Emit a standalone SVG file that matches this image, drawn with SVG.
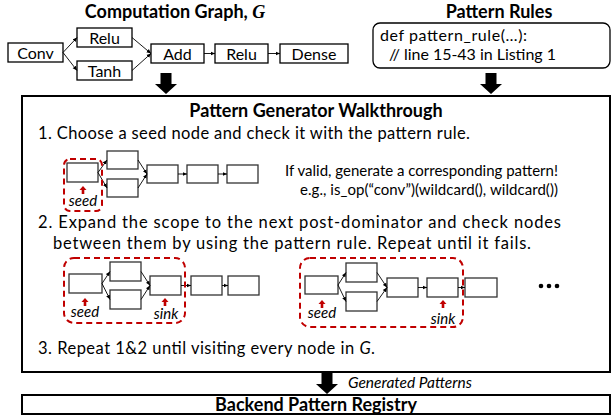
<svg xmlns="http://www.w3.org/2000/svg" width="613" height="417" viewBox="0 0 613 417">
<style>
text{font-family:Lato,"Open Sans","Liberation Sans",sans-serif;fill:#000}
.t{font-size:18px;font-weight:bold}
.n{font-size:16px}
.b{font-size:16.5px}
.s{font-size:15px}
.it{font-style:italic}
.box{fill:#fff;stroke:#000;stroke-width:1.3}
.mb{fill:#fff;stroke:#333;stroke-width:1.3}
.ln{fill:none;stroke:#000;stroke-width:0.9;marker-end:url(#ah)}
.dash{fill:none;stroke:#c00000;stroke-width:2;stroke-dasharray:6,4}
.ra{fill:#c00000}
.big{fill:#000}
</style>
<defs>
<marker id="ah" markerWidth="5" markerHeight="5" refX="4.5" refY="2.5" orient="auto" markerUnits="userSpaceOnUse">
<path d="M0,0.5 L4.5,2.5 L0,4.5 z" fill="#000"/>
</marker>
<path id="redup" d="M0,0 L3.5,4 L1.3,4 L1.3,8 L-1.3,8 L-1.3,4 L-3.5,4 z"/>
<path id="bigdown" d="M-5.5,0 L5.5,0 L5.5,11 L11,11 L0,21 L-11,11 L-5.5,11 z"/>
</defs>

<text class="t" x="175" y="18" text-anchor="middle">Computation Graph, <tspan font-family="Liberation Serif,serif" font-style="italic">G</tspan></text>
<text class="t" x="499" y="18" text-anchor="middle">Pattern Rules</text>

<g id="conv"><rect class="box" x="8" y="43" width="55" height="19"/><text class="n" x="35.5" y="58.5" text-anchor="middle">Conv</text></g>
<g id="relu1"><rect class="box" x="77" y="28" width="55" height="19"/><text class="n" x="104.5" y="43.5" text-anchor="middle">Relu</text></g>
<g id="tanh"><rect class="box" x="77" y="61" width="55" height="19"/><text class="n" x="104.5" y="76.5" text-anchor="middle">Tanh</text></g>
<g id="add"><rect class="box" x="151" y="44" width="53" height="19"/><text class="n" x="177.5" y="59.5" text-anchor="middle">Add</text></g>
<g id="relu2"><rect class="box" x="215" y="44" width="53" height="19"/><text class="n" x="241.5" y="59.5" text-anchor="middle">Relu</text></g>
<g id="dense"><rect class="box" x="280" y="44" width="68" height="19"/><text class="n" x="314" y="59.5" text-anchor="middle">Dense</text></g>

<g id="rules"><rect class="box" x="373" y="23" width="237" height="45" rx="7"/>
<text class="n" x="380" y="41" textLength="147">def pattern_rule(…):</text>
<text class="n" x="389" y="60" textLength="167">// line 15-43 in Listing 1</text></g>

<g id="connectors">
<line class="ln" x1="63" y1="52.5" x2="77" y2="37.5"/>
<line class="ln" x1="63" y1="52.5" x2="77" y2="70.5"/>
<line class="ln" x1="132" y1="37.5" x2="151" y2="53.5"/>
<line class="ln" x1="132" y1="70.5" x2="151" y2="53.5"/>
<line class="ln" x1="204" y1="53.5" x2="215" y2="53.5"/>
<line class="ln" x1="268" y1="53.5" x2="280" y2="53.5"/>
<use href="#bigdown" x="166" y="73" class="big"/>
<use href="#bigdown" x="491" y="73" class="big"/>
<use href="#bigdown" x="327" y="373" class="big"/>
</g>

<g id="walkthrough">
<rect x="22" y="96" width="588" height="276" fill="#fff" stroke="#000" stroke-width="2"/>
<text class="t" x="316" y="117" text-anchor="middle">Pattern Generator Walkthrough</text>
<text class="b" x="38" y="139" textLength="432">1. Choose a seed node and check it with the pattern rule.</text>

<g id="step1">
<rect class="mb" x="67" y="163" width="31" height="19"/>
<rect class="mb" x="107" y="151" width="31" height="18"/>
<rect class="mb" x="107" y="179" width="31" height="18"/>
<rect class="mb" x="147" y="165" width="31" height="18"/>
<rect class="mb" x="187" y="165" width="31" height="18"/>
<rect class="mb" x="227" y="165" width="31" height="18"/>
<line class="ln" x1="98" y1="172.5" x2="107" y2="160"/>
<line class="ln" x1="98" y1="172.5" x2="107" y2="188"/>
<line class="ln" x1="138" y1="160" x2="147" y2="174"/>
<line class="ln" x1="138" y1="188" x2="147" y2="174"/>
<line class="ln" x1="178" y1="174" x2="187" y2="174"/>
<line class="ln" x1="218" y1="174" x2="227" y2="174"/>
<rect class="dash" x="64" y="159" width="38" height="52" rx="6"/>
<use href="#redup" x="83" y="186" class="ra"/>
<text class="s it" x="83" y="206" text-anchor="middle">seed</text>
</g>
<text class="s" x="285" y="176" textLength="273">If valid, generate a corresponding pattern!</text>
<text class="s" x="300" y="195" textLength="258">e.g., is_op(“conv”)(wildcard(), wildcard())</text>

<text class="b" x="38" y="228" textLength="523">2. Expand the scope to the next post-dominator and check nodes</text>
<text class="b" x="53" y="249" textLength="478">between them by using the pattern rule. Repeat until it fails.</text>

<g id="step2a">
<rect class="mb" x="69" y="274" width="33" height="19"/>
<rect class="mb" x="110" y="262" width="31" height="19"/>
<rect class="mb" x="110" y="290" width="31" height="19"/>
<rect class="mb" x="150" y="276" width="31" height="19"/>
<rect class="mb" x="191" y="276" width="31" height="19"/>
<rect class="mb" x="228" y="276" width="31" height="19"/>
<line class="ln" x1="102" y1="283.5" x2="110" y2="271.5"/>
<line class="ln" x1="102" y1="283.5" x2="110" y2="299.5"/>
<line class="ln" x1="141" y1="271.5" x2="150" y2="285.5"/>
<line class="ln" x1="141" y1="299.5" x2="150" y2="285.5"/>
<line class="ln" x1="181" y1="285.5" x2="191" y2="285.5"/>
<line class="ln" x1="222" y1="285.5" x2="228" y2="285.5"/>
<rect class="dash" x="64" y="258" width="121" height="65" rx="10"/>
<use href="#redup" x="85" y="298" class="ra"/>
<use href="#redup" x="165" y="298" class="ra"/>
<text class="s it" x="85" y="317" text-anchor="middle">seed</text>
<text class="s it" x="166" y="319" text-anchor="middle">sink</text>
</g>

<g id="step2b">
<rect class="mb" x="305" y="276" width="33" height="18"/>
<rect class="mb" x="346" y="263" width="31" height="19"/>
<rect class="mb" x="346" y="292" width="31" height="19"/>
<rect class="mb" x="387" y="278" width="31" height="19"/>
<rect class="mb" x="427" y="278" width="31" height="19"/>
<rect class="mb" x="465" y="278" width="32" height="19"/>
<line class="ln" x1="338" y1="285" x2="346" y2="272.5"/>
<line class="ln" x1="338" y1="285" x2="346" y2="301.5"/>
<line class="ln" x1="377" y1="272.5" x2="387" y2="287.5"/>
<line class="ln" x1="377" y1="301.5" x2="387" y2="287.5"/>
<line class="ln" x1="418" y1="287.5" x2="427" y2="287.5"/>
<line class="ln" x1="458" y1="287.5" x2="465" y2="287.5"/>
<rect class="dash" x="300" y="258" width="163" height="69" rx="10"/>
<use href="#redup" x="322" y="300" class="ra"/>
<use href="#redup" x="443" y="300" class="ra"/>
<text class="s it" x="322" y="318" text-anchor="middle">seed</text>
<text class="s it" x="443" y="324" text-anchor="middle">sink</text>
</g>
<g id="ellipsis" fill="#000"><circle cx="541" cy="286" r="2.3"/><circle cx="549" cy="286" r="2.3"/><circle cx="557" cy="286" r="2.3"/></g>

<text class="b" x="38" y="354" textLength="337">3. Repeat 1&amp;2 until visiting every node in <tspan class="it">G</tspan>.</text>
</g>

<text class="it" x="348" y="388" font-size="15.5">Generated Patterns</text>
<g id="registry">
<rect x="22" y="395" width="588" height="19" fill="#fff" stroke="#000" stroke-width="2"/>
<text class="t" x="316" y="411" text-anchor="middle">Backend Pattern Registry</text>
</g>
</svg>
